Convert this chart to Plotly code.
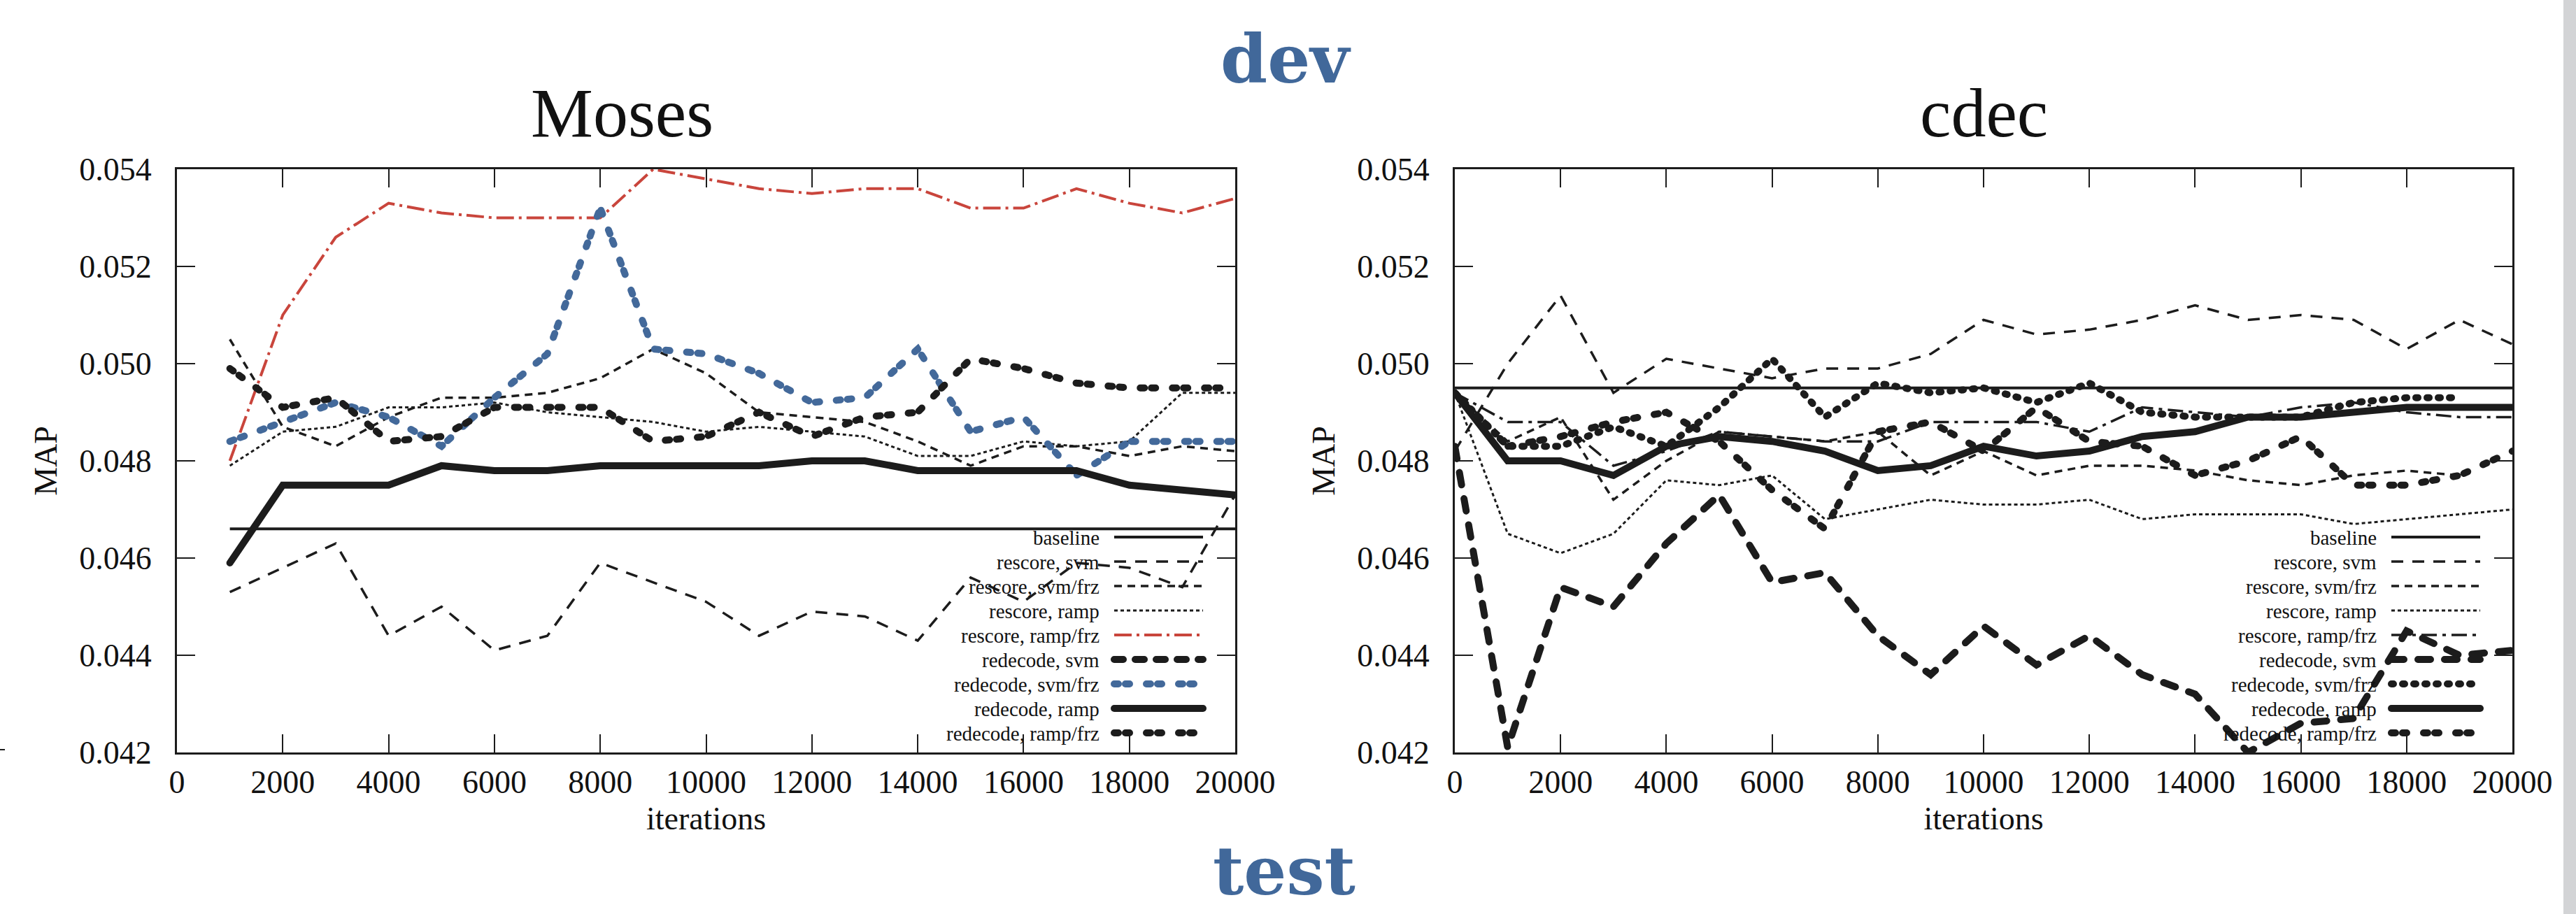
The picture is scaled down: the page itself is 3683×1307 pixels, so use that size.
import plotly.graph_objects as go

W, H = 3683, 1307

# ------------------------------------------------------------------ data
NAMES = ["baseline", "rescore, svm", "rescore, svm/frz", "rescore, ramp",
         "rescore, ramp/frz", "redecode, svm", "redecode, svm/frz",
         "redecode, ramp", "redecode, ramp/frz"]

X_TICKS = [0, 2000, 4000, 6000, 8000, 10000, 12000, 14000, 16000, 18000, 20000]
Y_TICKS = [0.042, 0.044, 0.046, 0.048, 0.050, 0.052, 0.054]

MOSES_ITERS = [1000, 2000, 3000, 4000, 5000, 6000, 7000, 8000, 9000, 10000,
               11000, 12000, 13000, 14000, 15000, 16000, 17000, 18000, 19000, 20000]
moses_baseline = [0.0466, 0.0466, 0.0466, 0.0466, 0.0466, 0.0466, 0.0466, 0.0466, 0.0466, 0.0466,
                  0.0466, 0.0466, 0.0466, 0.0466, 0.0466, 0.0466, 0.0466, 0.0466, 0.0466, 0.0466]
moses_rescore_svm = [0.0453, 0.0458, 0.0463, 0.0444, 0.0450, 0.0441, 0.0444, 0.0459, 0.0455, 0.0451,
                     0.0444, 0.0449, 0.0448, 0.0443, 0.0456, 0.0451, 0.0459, 0.0458, 0.0454, 0.0473]
moses_rescore_svm_frz = [0.0505, 0.0487, 0.0483, 0.0489, 0.0493, 0.0493, 0.0494, 0.0497, 0.0503, 0.0498,
                         0.0490, 0.0489, 0.0488, 0.0484, 0.0479, 0.0483, 0.0483, 0.0481, 0.0483, 0.0482]
moses_rescore_ramp = [0.0479, 0.0486, 0.0487, 0.0491, 0.0491, 0.0492, 0.0490, 0.0489, 0.0488, 0.0486,
                      0.0487, 0.0486, 0.0485, 0.0481, 0.0481, 0.0484, 0.0483, 0.0484, 0.0494, 0.0494]
moses_rescore_ramp_frz = [0.0480, 0.0510, 0.0526, 0.0533, 0.0531, 0.0530, 0.0530, 0.0530, 0.0540, 0.0538,
                          0.0536, 0.0535, 0.0536, 0.0536, 0.0532, 0.0532, 0.0536, 0.0533, 0.0531, 0.0534]
moses_redecode_svm = []   # listed in the key, no visible curve
moses_redecode_svm_frz = [0.0484, 0.0488, 0.0492, 0.0489, 0.0483, 0.0493, 0.0502, 0.0532, 0.0503, 0.0502,
                          0.0498, 0.0492, 0.0493, 0.0503, 0.0486, 0.0489, 0.0477, 0.0484, 0.0484, 0.0484]
moses_redecode_ramp = [0.0459, 0.0475, 0.0475, 0.0475, 0.0479, 0.0478, 0.0478, 0.0479, 0.0479, 0.0479,
                       0.0479, 0.0480, 0.0480, 0.0478, 0.0478, 0.0478, 0.0478, 0.0475, 0.0474, 0.0473]
moses_redecode_ramp_frz = [0.0499, 0.0491, 0.0493, 0.0484, 0.0485, 0.0491, 0.0491, 0.0491, 0.0484, 0.0485,
                           0.0490, 0.0485, 0.0489, 0.0490, 0.0501, 0.0499, 0.0496, 0.0495, 0.0495, 0.0495]

CDEC_ITERS = [0, 1000, 2000, 3000, 4000, 5000, 6000, 7000, 8000, 9000, 10000,
              11000, 12000, 13000, 14000, 15000, 16000, 17000, 18000, 19000, 20000]
cdec_baseline = [0.0495, 0.0495, 0.0495, 0.0495, 0.0495, 0.0495, 0.0495, 0.0495, 0.0495, 0.0495, 0.0495,
                 0.0495, 0.0495, 0.0495, 0.0495, 0.0495, 0.0495, 0.0495, 0.0495, 0.0495, 0.0495]
cdec_rescore_svm = [0.0482, 0.0500, 0.0514, 0.0494, 0.0501, 0.0499, 0.0497, 0.0499, 0.0499, 0.0502, 0.0509,
                    0.0506, 0.0507, 0.0509, 0.0512, 0.0509, 0.0510, 0.0509, 0.0503, 0.0509, 0.0504]
cdec_rescore_svm_frz = [0.0494, 0.0484, 0.0489, 0.0472, 0.0480, 0.0486, 0.0485, 0.0484, 0.0486, 0.0477, 0.0482,
                        0.0477, 0.0479, 0.0479, 0.0478, 0.0476, 0.0475, 0.0477, 0.0478, 0.0477, None]
cdec_rescore_ramp = [0.0494, 0.0465, 0.0461, 0.0465, 0.0476, 0.0475, 0.0477, 0.0468, 0.0470, 0.0472, 0.0471,
                     0.0471, 0.0472, 0.0468, 0.0469, 0.0469, 0.0469, 0.0467, 0.0468, 0.0469, 0.0470]
cdec_rescore_ramp_frz = [0.0494, 0.0488, 0.0488, 0.0479, 0.0482, 0.0486, 0.0485, 0.0484, 0.0484, 0.0488, 0.0488,
                         0.0488, 0.0486, 0.0491, 0.0490, 0.0489, 0.0491, 0.0492, 0.0490, 0.0489, 0.0489]
cdec_redecode_svm = [0.0483, 0.0421, 0.0454, 0.0450, 0.0463, 0.0473, 0.0455, 0.0457, 0.0444, 0.0436, 0.0446,
                     0.0438, 0.0444, 0.0436, 0.0432, 0.0420, 0.0426, 0.0427, 0.0445, 0.0440, 0.0441]
cdec_redecode_svm_frz = [0.0494, 0.0483, 0.0483, 0.0487, 0.0483, 0.0491, 0.0501, 0.0489, 0.0496, 0.0494, 0.0495,
                         0.0492, 0.0496, 0.0490, 0.0489, 0.0489, 0.0489, 0.0492, 0.0493, 0.0493, None]
cdec_redecode_ramp = [0.0494, 0.0480, 0.0480, 0.0477, 0.0483, 0.0485, 0.0484, 0.0482, 0.0478, 0.0479, 0.0483,
                      0.0481, 0.0482, 0.0485, 0.0486, 0.0489, 0.0489, 0.0490, 0.0491, 0.0491, 0.0491]
cdec_redecode_ramp_frz = [0.0494, 0.0483, 0.0485, 0.0488, 0.0490, 0.0484, 0.0474, 0.0466, 0.0486, 0.0488, 0.0482,
                          0.0491, 0.0484, 0.0483, 0.0477, 0.0480, 0.0485, 0.0475, 0.0475, 0.0477, 0.0482]

MOSES_SERIES = [moses_baseline, moses_rescore_svm, moses_rescore_svm_frz, moses_rescore_ramp,
                moses_rescore_ramp_frz, moses_redecode_svm, moses_redecode_svm_frz,
                moses_redecode_ramp, moses_redecode_ramp_frz]
CDEC_SERIES = [cdec_baseline, cdec_rescore_svm, cdec_rescore_svm_frz, cdec_rescore_ramp,
               cdec_rescore_ramp_frz, cdec_redecode_svm, cdec_redecode_svm_frz,
               cdec_redecode_ramp, cdec_redecode_ramp_frz]

# ------------------------------------------------------------------ styles
BLACK = "#1c1c1c"
RED = "#c9453c"
BLUE = "#43699a"
TITLE_BLUE = "#41689a"
FONT = "Liberation Serif, Times New Roman, serif"

# thick (>= 8 px) strokes get round caps below, so their dashes are
# given shorter and their gaps longer than they look
MOSES_STYLE = [
    (BLACK, 4, "solid"),
    (BLACK, 3.5, "17px,13px"),
    (BLACK, 3.5, "11px,8px"),
    (BLACK, 3, "5px,4px"),
    (RED, 4, "25px,7px,4px,7px"),
    (BLACK, 10, "13px,17px"),
    (BLUE, 10, "6px,10px,6px,24px"),
    (BLACK, 10, "solid"),
    (BLACK, 10, "6px,10px,6px,24px"),
]
CDEC_STYLE = [
    (BLACK, 4, "solid"),
    (BLACK, 3.5, "17px,13px"),
    (BLACK, 3.5, "11px,8px"),
    (BLACK, 3, "5px,4px"),
    (BLACK, 3.5, "22px,8px,5px,8px"),
    (BLACK, 10, "18px,20px"),
    (BLACK, 10, "3px,13px"),
    (BLACK, 10, "solid"),
    (BLACK, 10, "6px,10px,6px,24px"),
]

# pixel layout
PLOT_TOP, PLOT_BOTTOM = 242, 1076
KEY_FIRST, KEY_STEP = 768, 35
PANELS = [
    dict(left=253, right=1766, title="Moses", title_x=889, iters=MOSES_ITERS,
         series=MOSES_SERIES, style=MOSES_STYLE, xa="x", ya="y"),
    dict(left=2080, right=3592, title="cdec", title_x=2836, iters=CDEC_ITERS,
         series=CDEC_SERIES, style=CDEC_STYLE, xa="x2", ya="y2"),
]


def px(x):
    return x / W


def py(y):
    return 1 - y / H


fig = go.Figure()
annotations = []
shapes = []

for p in PANELS:
    for name, ys, (col, wid, dash) in zip(NAMES, p["series"], p["style"]):
        if len(ys) == 0:
            continue
        fig.add_trace(go.Scatter(
            x=p["iters"][:len(ys)], y=ys, mode="lines", name=name,
            line=dict(color=col, width=wid, dash=dash),
            xaxis=p["xa"], yaxis=p["ya"], showlegend=False, connectgaps=False,
        ))
    # panel title
    annotations.append(dict(text=p["title"], x=px(p["title_x"]), y=py(162),
                            xref="paper", yref="paper", showarrow=False,
                            xanchor="center", yanchor="middle",
                            font=dict(family=FONT, size=100, color="#111")))
    # key (text right-aligned, sample to its right)
    for i, (name, (col, wid, dash)) in enumerate(zip(NAMES, p["style"])):
        ry = KEY_FIRST + KEY_STEP * i
        annotations.append(dict(text=name, x=px(p["right"] - 192), y=py(ry + 1),
                                xref="paper", yref="paper", showarrow=False,
                                xanchor="right", yanchor="middle",
                                font=dict(family=FONT, size=29, color="#111")))
        shapes.append(dict(type="line", xref="paper", yref="paper",
                           x0=px(p["right"] - 173), x1=px(p["right"] - 46),
                           y0=py(ry), y1=py(ry),
                           line=dict(color=col, width=wid, dash=dash)))

annotations.append(dict(text="<b>dev</b>", x=px(1838), y=py(84), xref="paper", yref="paper",
                        showarrow=False, xanchor="center", yanchor="middle",
                        font=dict(family="DejaVu Serif, serif", size=96, color=TITLE_BLUE)))
annotations.append(dict(text="<b>test</b>", x=px(1836), y=py(1245), xref="paper", yref="paper",
                        showarrow=False, xanchor="center", yanchor="middle",
                        font=dict(family="DejaVu Serif, serif", size=96, color=TITLE_BLUE)))

# page decorations
shapes.append(dict(type="rect", xref="paper", yref="paper", x0=px(3665), x1=1, y0=0, y1=1,
                   fillcolor="#d3d4d6", line=dict(width=0), layer="below"))
shapes.append(dict(type="line", xref="paper", yref="paper", x0=0, x1=px(7),
                   y0=py(1072), y1=py(1072), line=dict(color=BLACK, width=2)))

axis_common = dict(
    ticks="inside", ticklen=26, tickwidth=2, tickcolor=BLACK,
    showline=True, linewidth=3, linecolor=BLACK, mirror="allticks",
    showgrid=False, zeroline=False, automargin=False,
    tickfont=dict(family=FONT, size=46, color="#111"),
    title_font=dict(family=FONT, size=46, color="#111"),
)

layout = dict(
    width=W, height=H, margin=dict(l=0, r=0, t=0, b=0, pad=0), autosize=False,
    paper_bgcolor="white", plot_bgcolor="white",
    showlegend=False, annotations=annotations, shapes=shapes,
)
for p, sx, sy in zip(PANELS, ["xaxis", "xaxis2"], ["yaxis", "yaxis2"]):
    layout[sx] = dict(axis_common, domain=[px(p["left"]), px(p["right"])], range=[0, 20000],
                      tickvals=X_TICKS, tickformat="d", ticklabelstandoff=0,
                      title=dict(text="iterations", standoff=11),
                      anchor=p["ya"])
    layout[sy] = dict(axis_common, domain=[py(PLOT_BOTTOM), py(PLOT_TOP)], range=[0.042, 0.054],
                      tickvals=Y_TICKS, tickformat=".3f", ticklabelstandoff=24,
                      title=dict(text="MAP", standoff=18),
                      anchor=p["xa"])

fig.update_layout(**layout)

POST = """
document.body.style.margin='0';
document.body.style.overflow='hidden';
document.querySelectorAll('.scatterlayer .js-line, .shapelayer path').forEach(function(el){
  if (parseFloat(el.style.strokeWidth) >= 8) { el.style.strokeLinecap = 'round'; }
});
"""
fig.write_html("out.html", config={"displayModeBar": False}, post_script=POST)
